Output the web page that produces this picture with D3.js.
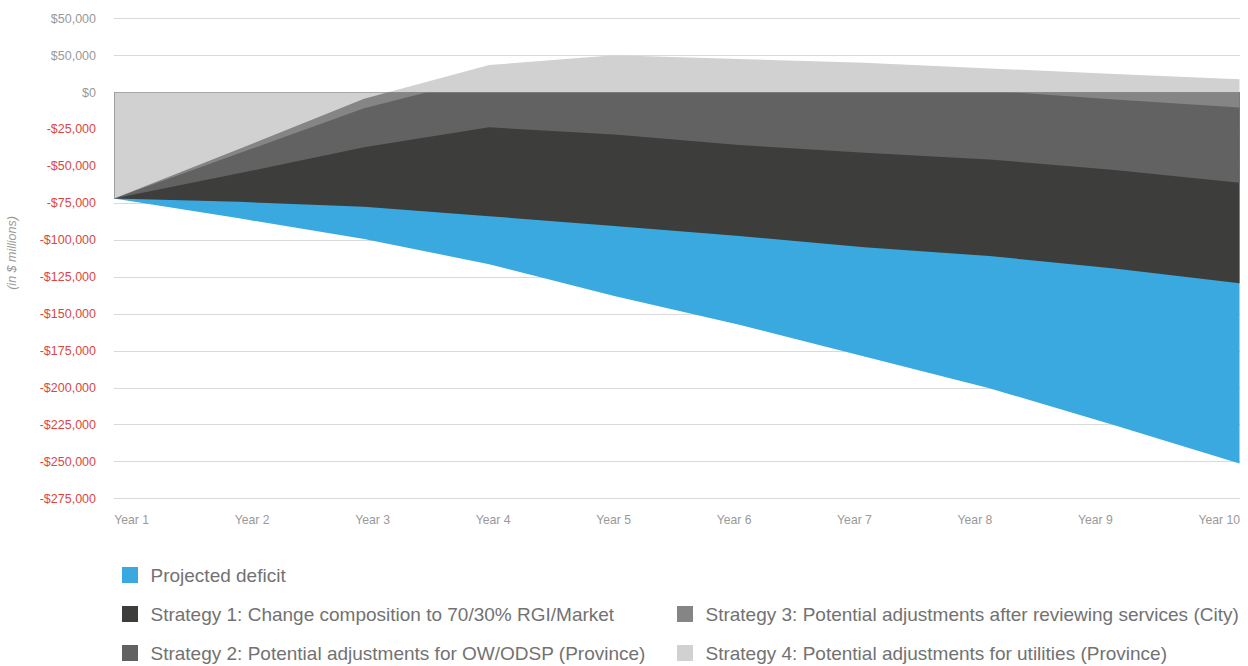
<!DOCTYPE html>
<html>
<head>
<meta charset="utf-8">
<script src="https://cdn.jsdelivr.net/npm/d3@7"></script>
<style>
  html, body { margin: 0; padding: 0; background: #fff; }
  svg { display: block; font-family: "Liberation Sans", Arial, Helvetica, sans-serif; }
</style>
</head>
<body>
<svg id="chart" width="1248" height="666"></svg>
<script>
// ---------- data ----------
const years = ["Year 1", "Year 2", "Year 3", "Year 4", "Year 5", "Year 6", "Year 7", "Year 8", "Year 9", "Year 10"];

const projectedDeficit = [-72000, -85500, -99500, -116500, -138000, -157500, -179000, -200500, -225500, -251500];
const strategy1 = [-72000, -74300, -77600, -84000, -90700, -97500, -105000, -111000, -119400, -129500];
const strategy2 = [-72000, -55000, -37400, -23900, -28700, -35900, -41100, -45600, -52800, -61400];
const strategy3 = [-72000, -41500, -11000, 10500, 9000, 7000, 4000, 1000, -5000, -10500];
const strategy4 = [-72000, -38500, -4500, 18300, 25000, 22300, 19800, 16000, 12200, 8600];

const seriesNames = [
  "Projected deficit",
  "Strategy 1: Change composition to 70/30% RGI/Market",
  "Strategy 2: Potential adjustments for OW/ODSP (Province)",
  "Strategy 3: Potential adjustments after reviewing services (City)",
  "Strategy 4: Potential adjustments for utilities (Province)"
];
const seriesColors = ["#3aa9e0", "#3d3d3b", "#626262", "#858585", "#d1d1d1"];

const yTickValues = [50000, 25000, 0, -25000, -50000, -75000, -100000, -125000, -150000, -175000, -200000, -225000, -250000, -275000];
const yTickLabels = ["$50,000", "$50,000", "$0", "-$25,000", "-$50,000", "-$75,000", "-$100,000", "-$125,000", "-$150,000", "-$175,000", "-$200,000", "-$225,000", "-$250,000", "-$275,000"];
const yAxisTitle = "(in $ millions)";

// ---------- layout ----------
const svg = d3.select("#chart");
const plotLeft = 114, plotRight = 1239.5;

const x = d3.scalePoint().domain(years).range([plotLeft, plotRight]);
const xLabel = d3.scalePoint().domain(years).range([114.3, 1198.5]);
const y = d3.scaleLinear().domain([-275000, 50000]).range([498.3, 18.2]);

// gridlines
svg.append("g")
  .selectAll("line")
  .data(yTickValues)
  .join("line")
  .attr("x1", plotLeft)
  .attr("x2", plotRight + 0.5)
  .attr("y1", d => Math.round(y(d)) + 0.5)
  .attr("y2", d => Math.round(y(d)) + 0.5)
  .attr("stroke", "#d9d9d9")
  .attr("stroke-width", 1);

// y tick labels
svg.append("g")
  .selectAll("text")
  .data(yTickValues)
  .join("text")
  .attr("x", 96)
  .attr("y", d => y(d))
  .attr("dy", "0.36em")
  .attr("text-anchor", "end")
  .attr("font-size", 12.5)
  .attr("fill", d => d < 0 ? "#d9473f" : "#999999")
  .text((d, i) => yTickLabels[i]);

// y axis title
svg.append("text")
  .attr("transform", "translate(16,253) rotate(-90)")
  .attr("text-anchor", "middle")
  .attr("font-size", 12.5)
  .attr("font-style", "italic")
  .attr("fill", "#999999")
  .text(yAxisTitle);

// x labels
svg.append("g")
  .selectAll("text")
  .data(years)
  .join("text")
  .attr("x", d => xLabel(d))
  .attr("y", 523.5)
  .attr("text-anchor", "start")
  .attr("font-size", 12.2)
  .attr("fill", "#999999")
  .text(d => d);

// areas (each filled from 0 to its value, drawn back to front)
const seriesValues = [projectedDeficit, strategy1, strategy2, strategy3, strategy4];
const area = d3.area()
  .x((d, i) => x(years[i]))
  .y0(y(0))
  .y1(d => y(d));

svg.append("g")
  .selectAll("path")
  .data(seriesValues)
  .join("path")
  .attr("d", d => area(d))
  .attr("fill", (d, i) => seriesColors[i]);

// horizontal axis line at zero and left edge
svg.append("line")
  .attr("x1", plotLeft).attr("x2", plotRight)
  .attr("y1", Math.round(y(0)) + 0.5).attr("y2", Math.round(y(0)) + 0.5)
  .attr("stroke", "#8a8a8a").attr("stroke-opacity", 0.6);
svg.append("line")
  .attr("x1", plotLeft + 0.5).attr("x2", plotLeft + 0.5)
  .attr("y1", y(0)).attr("y2", y(strategy4[0]))
  .attr("stroke", "#8a8a8a").attr("stroke-opacity", 0.7);

// legend
const legendPos = [
  { x: 122, y: 567 },
  { x: 122, y: 606 },
  { x: 122, y: 645 },
  { x: 677, y: 606 },
  { x: 677, y: 645 }
];
const legend = svg.append("g")
  .selectAll("g")
  .data(seriesNames)
  .join("g")
  .attr("transform", (d, i) => `translate(${legendPos[i].x},${legendPos[i].y})`);
legend.append("rect")
  .attr("width", 16).attr("height", 16)
  .attr("fill", (d, i) => seriesColors[i]);
legend.append("text")
  .attr("x", 28.5)
  .attr("y", 15)
  .attr("font-size", 19)
  .attr("fill", "#727272")
  .text(d => d);
</script>
</body>
</html>
